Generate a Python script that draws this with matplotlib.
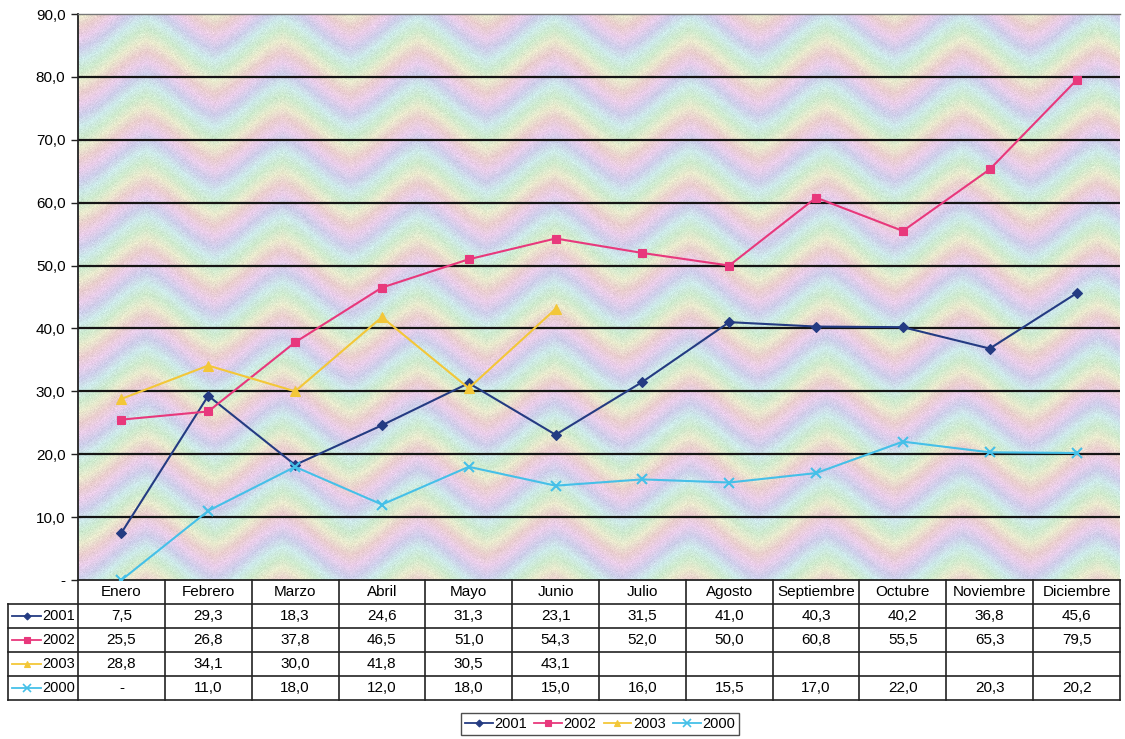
import colorsys

import matplotlib
matplotlib.use('Agg')

import matplotlib.pyplot as plt
import numpy as np
from matplotlib.lines import Line2D

plt.rcParams['font.family'] = ['Liberation Sans', 'DejaVu Sans']

# datos mensuales por año
meses = ['Enero', 'Febrero', 'Marzo', 'Abril', 'Mayo', 'Junio', 'Julio',
         'Agosto', 'Septiembre', 'Octubre', 'Noviembre', 'Diciembre']
v2001 = [7.5, 29.3, 18.3, 24.6, 31.3, 23.1, 31.5, 41.0, 40.3, 40.2, 36.8, 45.6]
v2002 = [25.5, 26.8, 37.8, 46.5, 51.0, 54.3, 52.0, 50.0, 60.8, 55.5, 65.3, 79.5]
v2003 = [28.8, 34.1, 30.0, 41.8, 30.5, 43.1]
v2000 = [0.0, 11.0, 18.0, 12.0, 18.0, 15.0, 16.0, 15.5, 17.0, 22.0, 20.3, 20.2]

series = [
    ('2001', v2001, '#243b82', 'D', 5),
    ('2002', v2002, '#e8387c', 's', 6),
    ('2003', v2003, '#f3c738', '^', 6.5),
    ('2000', v2000, '#45c0e8', 'x', 7),
]

W, H = 1125, 739
fig = plt.figure(figsize=(W / 100, H / 100), dpi=100)
fig.patch.set_facecolor('white')

ax = fig.add_axes([78 / W, (H - 580) / H, 1042 / W, 566 / H])

# fondo tipo "arco iris" en zigzag suave, con algo de grano
nx, ny = 1042, 566
xx, yy = np.meshgrid(np.arange(nx), np.arange(ny))
t = (xx / 136.0) % 1
onda = 0.5 * np.abs(t - 0.5) * 2 + 0.5 * (0.5 + 0.5 * np.cos(2 * np.pi * t))
fase = ((yy + 42 * onda) / 66.0) % 1
hsv_to_rgb = np.vectorize(colorsys.hsv_to_rgb)
r, g, b = hsv_to_rgb(fase, 0.12, 0.92)
rgb = np.dstack([r, g, b])
grano = np.random.default_rng(3).normal(0, 0.02, (ny, nx, 1))
rgb = np.clip(rgb + grano, 0, 1)
ax.imshow(rgb, extent=(-0.5, 11.5, 90, 0), aspect='auto', zorder=0,
          interpolation='bilinear')

x = np.arange(len(meses))
for nombre, vals, color, marca, ms in series:
    ax.plot(x[:len(vals)], vals, color=color, lw=1.5, marker=marca, ms=ms,
            mew=1.5 if marca == 'x' else 0.8, zorder=3)

ax.set_xlim(-0.5, 11.5)
ax.set_ylim(0, 90)
ax.set_yticks(range(0, 91, 10))
ax.set_yticklabels(['-'] + [f'{v},0' for v in range(10, 91, 10)], fontsize=11)
ax.set_xticks([])
ax.tick_params(axis='y', length=5, width=1, color='#222222', pad=4)
for yv in range(10, 90, 10):
    ax.axhline(yv, color='#151515', lw=1.6, zorder=1)
ax.spines['right'].set_visible(False)
ax.spines['top'].set_color('#777777')
ax.spines['top'].set_linewidth(1)
for lado in ('left', 'bottom'):
    ax.spines[lado].set_color('#222222')
    ax.spines[lado].set_linewidth(1.3)

# tabla de datos bajo el gráfico
tab = fig.add_axes([78 / W, (H - 700) / H, 1042 / W, 120 / H])
tab.set_xlim(-0.5, 11.5)
tab.set_ylim(5, 0)
tab.axis('off')
izq = -0.5 - 70 / (1042 / 12)
lc = '#222222'
for k in range(13):
    tab.plot([k - 0.5, k - 0.5], [0, 5], color=lc, lw=1.2, clip_on=False)
for fila in range(1, 6):
    tab.plot([izq, 11.5], [fila, fila], color=lc, lw=1.2, clip_on=False)
tab.plot([izq, izq], [1, 5], color=lc, lw=1.2, clip_on=False)

for j, mes in enumerate(meses):
    tab.text(j, 0.5, mes, ha='center', va='center', fontsize=11)

for fila, (nombre, vals, color, marca, ms) in enumerate(series, start=1):
    for j in range(len(meses)):
        if j < len(vals):
            txt = '-' if vals[j] == 0 else f'{vals[j]:.1f}'.replace('.', ',')
            tab.text(j, fila + 0.5, txt, ha='center', va='center', fontsize=11)
    # clave de leyenda en la etiqueta de fila
    x0 = izq + 0.045
    tab.plot([x0, x0 + 0.34], [fila + 0.5, fila + 0.5], color=color, lw=1.3,
             clip_on=False)
    tab.plot([x0 + 0.17], [fila + 0.5], color=color, marker=marca, ms=ms - 1.5,
             mew=1.2 if marca == 'x' else 0.8, clip_on=False)
    tab.text(x0 + 0.355, fila + 0.5, nombre, ha='left', va='center',
             fontsize=10.5)

handles = [Line2D([], [], color=c, lw=1.3, marker=m, ms=s - 1.5,
                  mew=1.2 if m == 'x' else 0.8)
           for _, _, c, m, s in series]
fig.legend(handles, [s[0] for s in series], loc='center',
           bbox_to_anchor=(600 / W, 1 - 724 / H), ncol=4, fontsize=10.5,
           frameon=True, fancybox=False, edgecolor='#222222',
           handlelength=1.9, handletextpad=0.1, columnspacing=0.5,
           borderpad=0.3, borderaxespad=0)

fig.savefig('out.png', dpi=100)
